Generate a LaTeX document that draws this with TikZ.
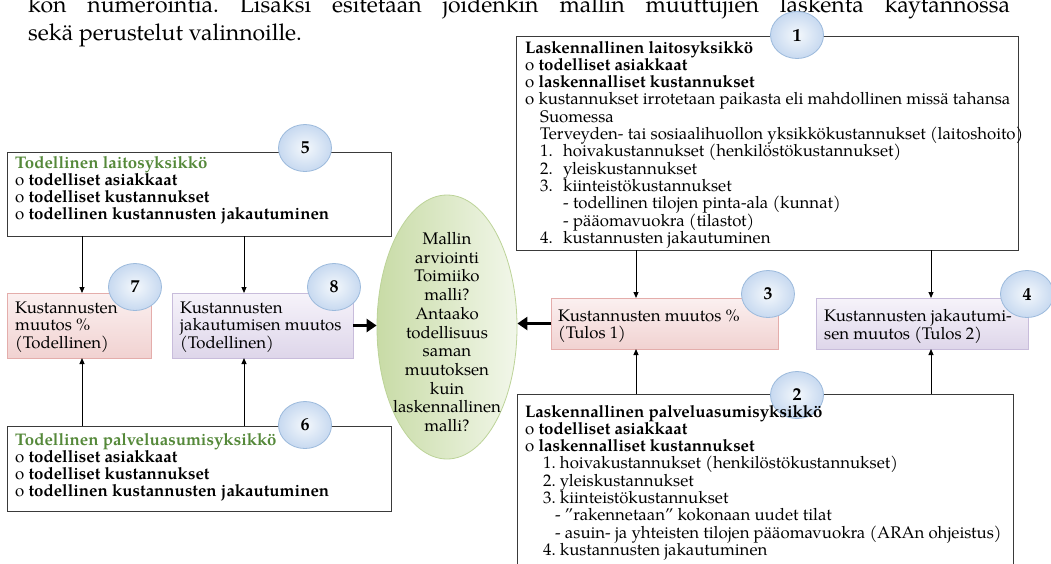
\documentclass[tikz,border=0pt]{standalone}
\usepackage{fontspec}
\setmainfont{TeX Gyre Pagella}
\usetikzlibrary{arrows.meta,shapes.geometric}
\frenchspacing
\definecolor{hdrgreen}{HTML}{55893A}
\definecolor{framegray}{HTML}{3A3A3A}
\definecolor{pinkedge}{HTML}{E4ADAB}
\definecolor{pinktop}{HTML}{FBF0F0}
\definecolor{pinkbot}{HTML}{F1D2D1}
\definecolor{purpedge}{HTML}{C8BCDB}
\definecolor{purptop}{HTML}{F6F3FA}
\definecolor{purpbot}{HTML}{DED6EA}
\definecolor{circedge}{HTML}{9CBADC}
\definecolor{circin}{HTML}{F4F8FC}
\definecolor{circout}{HTML}{C7D9F0}
\definecolor{ellleft}{HTML}{C8DBA6}
\definecolor{ellright}{HTML}{F2F7EA}
\definecolor{elledge}{HTML}{BCD398}
\begin{document}
\begin{tikzpicture}[x=1pt,y=-1pt,
  frame/.style={draw=framegray, line width=1pt, fill=white, inner sep=0pt, outer sep=0pt, anchor=north west},
  pinkbox/.style={draw=pinkedge, line width=1pt, top color=pinktop, bottom color=pinkbot, inner sep=0pt, outer sep=0pt, anchor=north west},
  purpbox/.style={draw=purpedge, line width=1pt, top color=purptop, bottom color=purpbot, inner sep=0pt, outer sep=0pt, anchor=north west},
  circ/.style={ellipse, minimum width=53pt, minimum height=47pt, inner sep=0pt, draw=circedge, line width=0.8pt, inner color=circin, outer color=circout, font=\bfseries\fontsize{18}{18}\selectfont},
  txt/.style={anchor=north west, inner sep=0pt, align=left, font=\fontsize{16.8}{17.3}\selectfont},
  para/.style={anchor=base west, inner sep=0pt, font=\fontsize{23}{28}\selectfont},
  arr/.style={line width=1pt, -{Triangle[length=6pt,width=5pt]}},
  bigarr/.style={line width=3.5pt, -{Triangle[length=10pt,width=13pt]}}
]
\useasboundingbox (0,0) rectangle (1051,563);
\clip (0,0) rectangle (1051,563);

% paragraph text
\node[para] (p1) at (28,12) {\makebox[982pt][s]{kon numerointia. Lisäksi esitetään joidenkin mallin muuttujien laskenta käytännössä}};
\node[para] (p2) at (28,40) {sekä perustelut valinnoille.};

% boxes
\node[frame, minimum width=502pt, minimum height=214pt] (b1) at (516,36) {};
\node[frame, minimum width=496pt, minimum height=220pt] (b2) at (517,394) {};
\node[frame, minimum width=384pt, minimum height=84pt] (b5) at (7,152) {};
\node[frame, minimum width=384pt, minimum height=85pt] (b6) at (7,426) {};
\node[pinkbox, minimum width=144pt, minimum height=65pt] (b7) at (7,293) {};
\node[purpbox, minimum width=181pt, minimum height=65pt] (b8) at (172,293) {};
\node[pinkbox, minimum width=227pt, minimum height=51pt] (b3) at (551,298) {};
\node[purpbox, minimum width=212pt, minimum height=51pt] (b4) at (816,298) {};
\node[ellipse, minimum width=140pt, minimum height=264pt, inner sep=0pt, draw=elledge, line width=0.8pt, left color=ellleft, right color=ellright] (ell) at (447,327) {};

% arrow columns
\coordinate (k1) at (82,0);
\coordinate (k2) at (244,0);
\coordinate (k3) at (636,0);
\coordinate (k4) at (931,0);
\draw[arr] (k1 |- b5.south) -- (k1 |- b7.north);
\draw[arr] (k1 |- b6.north) -- (k1 |- b7.south);
\draw[arr] (k2 |- b5.south) -- (k2 |- b8.north);
\draw[arr] (k2 |- b6.north) -- (k2 |- b8.south);
\draw[arr] (k3 |- b1.south) -- (k3 |- b3.north);
\draw[arr] (k3 |- b2.north) -- (k3 |- b3.south);
\draw[arr] (k4 |- b1.south) -- (k4 |- b4.north);
\draw[arr] (k4 |- b2.north) -- (k4 |- b4.south);
\draw[bigarr] (b8.east) -- (b8.east -| ell.west);
\draw[bigarr] (b3.west) -- (b3.west -| ell.east);

% numbered circles
\node[circ] (c1) at (797,35) {1};
\node[circ] (c2) at (797,395) {2};
\node[circ] (c3) at (768,294) {3};
\node[circ] (c4) at (1027,294) {4};
\node[circ] (c5) at (305,148) {5};
\node[circ] (c6) at (305,425) {6};
\node[circ] (c7) at (135,287) {7};
\node[circ] (c8) at (334,287) {8};

% texts
\node[txt] (t1) at (525,40.7) {\textbf{Laskennallinen laitosyksikkö}\\
o \textbf{todelliset asiakkaat}\\
o \textbf{laskennalliset kustannukset}\\
o kustannukset irrotetaan paikasta eli mahdollinen missä tahansa\\
\hspace*{15pt}Suomessa\\
\hspace*{15pt}Terveyden- tai sosiaalihuollon yksikkökustannukset (laitoshoito)\\
\hspace*{15pt}\makebox[23pt][l]{1.}hoivakustannukset (henkilöstökustannukset)\\
\hspace*{15pt}\makebox[23pt][l]{2.}yleiskustannukset\\
\hspace*{15pt}\makebox[23pt][l]{3.}kiinteistökustannukset\\
\hspace*{38pt}- todellinen tilojen pinta-ala (kunnat)\\
\hspace*{38pt}- pääomavuokra (tilastot)\\
\hspace*{15pt}\makebox[23pt][l]{4.}kustannusten jakautuminen};

\node[txt] (t2) at (525,404.7) {\textbf{Laskennallinen palveluasumisyksikkö}\\
o \textbf{todelliset asiakkaat}\\
o \textbf{laskennalliset kustannukset}\\
\hspace*{18pt}1. hoivakustannukset (henkilöstökustannukset)\\
\hspace*{18pt}2. yleiskustannukset\\
\hspace*{18pt}3. kiinteistökustannukset\\
\hspace*{30pt}- ”rakennetaan” kokonaan uudet tilat\\
\hspace*{30pt}- asuin- ja yhteisten tilojen pääomavuokra (ARAn ohjeistus)\\
\hspace*{18pt}4. kustannusten jakautuminen};

\node[txt] (t5) at (15,155.7) {\textcolor{hdrgreen}{\textbf{Todellinen laitosyksikkö}}\\
o \textbf{todelliset asiakkaat}\\
o \textbf{todelliset kustannukset}\\
o \textbf{todellinen kustannusten jakautuminen}};

\node[txt] (t6) at (15,432.7) {\textcolor{hdrgreen}{\textbf{Todellinen palveluasumisyksikkö}}\\
o \textbf{todelliset asiakkaat}\\
o \textbf{todelliset kustannukset}\\
o \textbf{todellinen kustannusten jakautuminen}};

\node[txt] (t7) at (15,301.7) {Kustannusten\\muutos \%\\(Todellinen)};
\node[txt] (t8) at (180,301.7) {Kustannusten\\jakautumisen muutos\\(Todellinen)};
\node[txt] (t3) at (558,309.5) {Kustannusten muutos \%\\(Tulos 1)};
\node[txt] (t4) at (824,309.5) {Kustannusten jakautumi-\\sen muutos (Tulos 2)};

\node[inner sep=0pt, align=center, font=\fontsize{16.8}{18.7}\selectfont] (te) at (447,332) {Mallin\\arviointi\\Toimiiko\\malli?\\Antaako\\todellisuus\\saman\\muutoksen\\kuin\\laskennallinen\\malli?};
\end{tikzpicture}
\end{document}
